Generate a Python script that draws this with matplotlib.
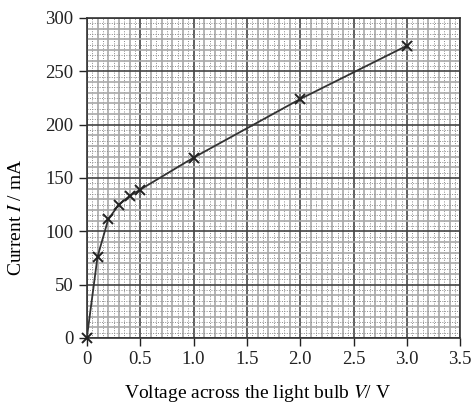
import matplotlib
matplotlib.use('Agg')
import matplotlib.pyplot as plt
import numpy as np

plt.rcParams['font.family'] = ['Liberation Serif', 'DejaVu Serif']
plt.rcParams['mathtext.fontset'] = 'stix'

# measured points
voltage = [0.0, 0.1, 0.2, 0.3, 0.4, 0.5, 1.0, 2.0, 3.0]
current = [0, 76, 111, 125, 133, 139, 169, 224, 274]

x_ticks = [0, 0.5, 1.0, 1.5, 2.0, 2.5, 3.0, 3.5]
x_labels = ['0', '0.5', '1.0', '1.5', '2.0', '2.5', '3.0', '3.5']
y_ticks = [0, 50, 100, 150, 200, 250, 300]

fig = plt.figure(figsize=(4.72, 4.09), dpi=100)
ax = fig.add_axes([0.184, 0.174, 0.791, 0.782])

# graph paper
for v in np.arange(0, 3.5001, 0.05):
    k = int(round(v / 0.05))
    if k % 10 == 0:
        ax.axvline(v, color='#444444', lw=1.2, zorder=1)
    elif k % 2 == 0:
        ax.axvline(v, color='#a8a8a8', lw=1.2, zorder=1)
    else:
        ax.axvline(v, color='#8a8a8a', lw=0.7, ls=(0, (1, 1.5)), zorder=1)
for v in np.arange(0, 300.01, 5):
    k = int(round(v / 5))
    if k % 10 == 0:
        ax.axhline(v, color='#444444', lw=1.2, zorder=1)
    elif k % 2 == 0:
        ax.axhline(v, color='#a8a8a8', lw=1.2, zorder=1)
    else:
        ax.axhline(v, color='#8a8a8a', lw=0.7, ls=(0, (1, 1.5)), zorder=1)

ax.plot(voltage, current, color='#333333', lw=1.3, zorder=3)
ax.plot(voltage, current, ls='none', marker='x', ms=7, mew=1.4, color='#222222',
        zorder=4, clip_on=False)

ax.set_xlim(0, 3.5)
ax.set_ylim(0, 300)
ax.set_xticks(x_ticks)
ax.set_xticklabels(x_labels)
ax.set_yticks(y_ticks)
ax.tick_params(direction='out', length=6, width=1, labelsize=13.5, colors='#222222')
for s in ax.spines.values():
    s.set_color('#333333')
    s.set_linewidth(1.2)

ax.set_xlabel('Voltage across the light bulb $\\mathit{V}$/ V', fontsize=14)
ax.xaxis.set_label_coords(0.458, -0.14)
ax.set_ylabel('Current $\\mathit{I}$ / mA', fontsize=14)
ax.yaxis.set_label_coords(-0.165, 0.378)

fig.savefig('out.png', dpi=100)
